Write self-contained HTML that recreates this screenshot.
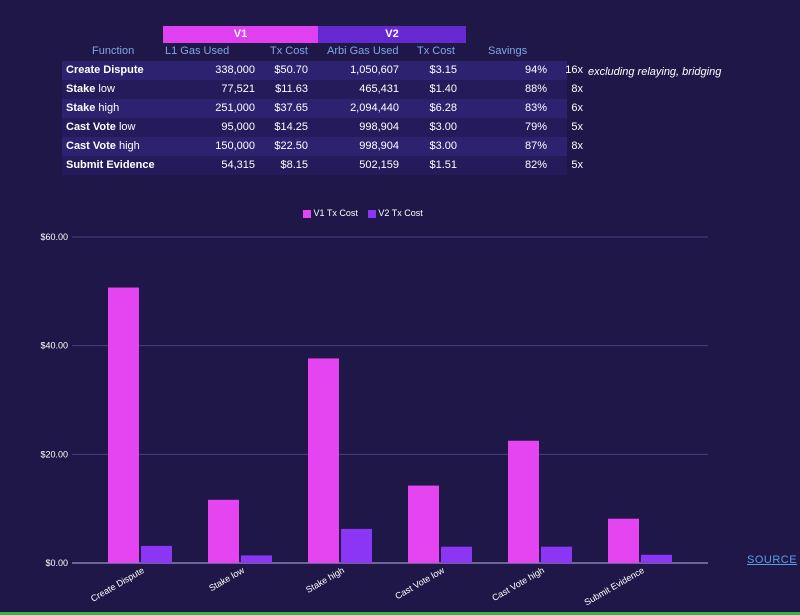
<!DOCTYPE html>
<html><head><meta charset="utf-8"><style>
body{margin:0;width:800px;height:615px;background:#1f1747;font-family:"Liberation Sans",sans-serif;overflow:hidden;position:relative;color:#fff}
.abs{position:absolute}
.row{position:absolute;left:62px;width:505px;height:19px;font-size:11px;line-height:19px}
.c{position:absolute;text-align:right}
.hd{position:absolute;font-size:11px;color:#7fa6e6;top:45px}
</style></head><body>
<div class="abs" style="left:163px;top:26px;width:155px;height:17px;background:#e040f0;text-align:center;font-weight:bold;font-size:11px;line-height:17px">V1</div>
<div class="abs" style="left:318px;top:26px;width:148px;height:17px;background:#6628d0;text-align:center;font-weight:bold;font-size:11px;line-height:17px">V2</div>
<div class="hd" style="left:92px">Function</div>
<div class="hd" style="left:165px">L1 Gas Used</div>
<div class="hd" style="left:270px">Tx Cost</div>
<div class="hd" style="left:327px">Arbi Gas Used</div>
<div class="hd" style="left:417px">Tx Cost</div>
<div class="hd" style="left:488px">Savings</div>
<div id="tbl"></div>
<div class="abs" style="left:588px;top:66px;font-size:11px;font-style:italic">excluding relaying, bridging</div>
<div class="abs" style="left:303px;top:208px;font-size:9px;color:#fff">
<span style="display:inline-block;width:8px;height:8px;background:#e545f0;vertical-align:middle"></span> V1 Tx Cost &nbsp;&nbsp;
<span style="display:inline-block;width:8px;height:8px;background:#8b35f5;vertical-align:middle"></span> V2 Tx Cost</div>
<svg id="chart" class="abs" style="left:0;top:0" width="800" height="615"></svg>
<div class="abs" style="left:747px;top:554px;font-size:11px;color:#5b9ee8;text-decoration:underline;letter-spacing:0.5px">SOURCE</div>
<div class="abs" style="left:0;top:612px;width:800px;height:3px;background:#3cb043"></div>
<script>
const categories=["Create Dispute","Stake low","Stake high","Cast Vote low","Cast Vote high","Submit Evidence"];
const v1Cost=[50.70,11.63,37.65,14.25,22.50,8.15];
const v2Cost=[3.15,1.40,6.28,3.00,3.00,1.51];
const l1Gas=["338,000","77,521","251,000","95,000","150,000","54,315"];
const arbiGas=["1,050,607","465,431","2,094,440","998,904","998,904","502,159"];
const savings=["94%","88%","83%","79%","87%","82%"];
const mult=["16x","8x","6x","5x","8x","5x"];
const yTicks=[0,20,40,60];
const tbl=document.getElementById('tbl');
categories.forEach((c,i)=>{
  const r=document.createElement('div');r.className='row';
  
  
  r.style.top=(61+i*19)+'px';r.style.background=i%2==0?'#2d2270':'#251b5a';
  const parts=c.split(' ');let label;
  if(parts[parts.length-1]=='low'||parts[parts.length-1]=='high'){label='<b>'+parts.slice(0,-1).join(' ')+'</b> '+parts[parts.length-1];}else label='<b>'+c+'</b>';
  r.innerHTML='<span class="c" style="left:4px;text-align:left">'+label+'</span>'+
  '<span class="c" style="right:312px">'+l1Gas[i]+'</span>'+
  '<span class="c" style="right:259px">$'+v1Cost[i].toFixed(2)+'</span>'+
  '<span class="c" style="right:168px">'+arbiGas[i]+'</span>'+
  '<span class="c" style="right:110px">$'+v2Cost[i].toFixed(2)+'</span>'+
  '<span class="c" style="right:20px">'+savings[i]+'</span>'+
  '<span class="c" style="right:-16px">'+mult[i]+'</span>';
  tbl.appendChild(r);
});
const svg=document.getElementById('chart');const NS='http://www.w3.org/2000/svg';
const y=v=>563-v*(326/60);const x0=i=>90+i*100;
function mk(t,a){const e=document.createElementNS(NS,t);for(const k in a)e.setAttribute(k,a[k]);svg.appendChild(e);return e;}
yTicks.forEach(t=>{
  const l=mk('line',{x1:72,x2:708,y1:y(t),y2:y(t),stroke:t==0?'#b9b0e0':'#4a3f80','stroke-width':1});
  
  
  const tx=mk('text',{x:68,y:y(t)+3,'text-anchor':'end','font-size':9,fill:'#fff'});tx.textContent='$'+t.toFixed(2);
  
  
});
categories.forEach((c,i)=>{
  const b1=mk('rect',{x:x0(i)+18,y:y(v1Cost[i]),width:31,height:y(0)-y(v1Cost[i]),fill:'#e545f0'});
  
  
  const b2=mk('rect',{x:x0(i)+51,y:y(v2Cost[i]),width:31,height:y(0)-y(v2Cost[i]),fill:'#8b35f5'});
  
  
  const cx=x0(i)+55;
  const t=mk('text',{x:cx,y:572,'text-anchor':'end','font-size':9,fill:'#fff',transform:'rotate(-30 '+cx+' 572)'});
  t.textContent=c;
  
  
});
</script>
</body></html>
